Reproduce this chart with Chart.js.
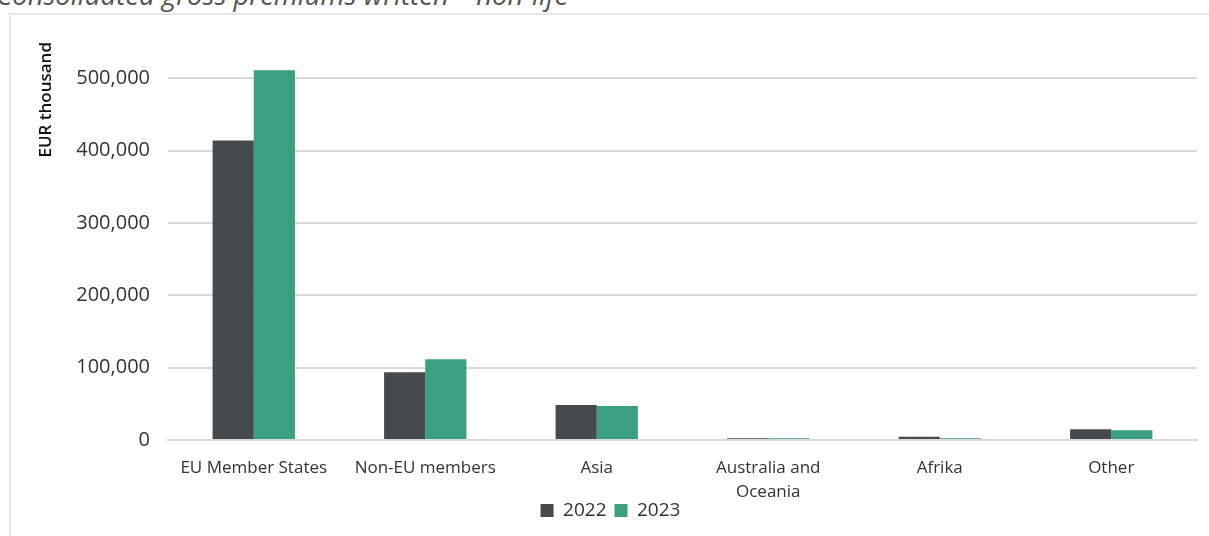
<!DOCTYPE html>
<html>
<head>
<meta charset="utf-8">
<script src="https://cdn.jsdelivr.net/npm/chart.js@4/dist/chart.umd.min.js"></script>
<style>
  body { margin: 0; background: #fff; overflow: hidden; width: 1209px; height: 536px; position: relative; }
  .caption {
    position: absolute; left: -4px; top: -24px;
    font-family: "Open Sans", sans-serif; font-style: italic; font-size: 27.5px; color: #555;
    white-space: nowrap;
  }
  .frame {
    position: absolute; left: 9px; top: 13px; width: 1210px; height: 540px;
    border: 2px solid #e6e6e6; box-sizing: border-box;
  }
  .wrap { position: absolute; left: 12px; top: 12px; width: 1197px; height: 524px; }
</style>
</head>
<body>
<div class="caption">Consolidated gross premiums written – non-life</div>
<div class="frame"></div>
<div class="wrap"><canvas id="chart"></canvas></div>
<script>
const regions = ['EU Member States', 'Non-EU members', 'Asia', ['Australia and', 'Oceania'], 'Afrika', 'Other'];
const premiums2022 = [414000, 93500, 48500, 2500, 4500, 15000];
const premiums2023 = [511000, 111500, 47000, 2500, 2500, 13500];
const yTicks = [0, 100000, 200000, 300000, 400000, 500000];

const fontFamily = '"Open Sans", sans-serif';

// pull the legend up beside the two-line category label
const legendLift = {
    id: 'legendLift',
    afterLayout(chart) {
        const lg = chart.legend;
        lg.top -= 6;
        lg.bottom -= 6;
    }
};

const ctx = document.getElementById('chart').getContext('2d');
new Chart(ctx, {
    type: 'bar',
    data: {
        labels: regions,
        datasets: [
            {
                label: '2022',
                data: premiums2022,
                backgroundColor: '#454b4b',
                categoryPercentage: 0.48,
                barPercentage: 1.0
            },
            {
                label: '2023',
                data: premiums2023,
                backgroundColor: '#3aa080',
                categoryPercentage: 0.48,
                barPercentage: 1.0
            }
        ]
    },
    plugins: [legendLift],
    options: {
        responsive: true,
        maintainAspectRatio: false,
        animation: false,
        layout: {
            padding: { left: 12, right: 12, top: 0, bottom: 0 }
        },
        plugins: {
            tooltip: { enabled: false },
            legend: {
                position: 'bottom',
                labels: {
                    boxWidth: 13,
                    boxHeight: 13,
                    padding: 8,
                    color: '#333',
                    font: { family: fontFamily, size: 19 }
                }
            }
        },
        scales: {
            x: {
                grid: { display: false },
                border: { color: '#d9d9d9', width: 2 },
                ticks: {
                    color: '#333',
                    padding: 8,
                    maxRotation: 0,
                    autoSkip: false,
                    font: { family: fontFamily, size: 17, lineHeight: 1.4 }
                },
                afterFit: scale => { scale.height = 59; }
            },
            y: {
                min: 0,
                max: 550000,
                afterBuildTicks: scale => {
                    scale.ticks = yTicks.map(v => ({ value: v }));
                },
                grid: { color: '#d9d9d9', lineWidth: 2, drawTicks: false },
                border: { display: false },
                ticks: {
                    color: '#333',
                    padding: 18,
                    font: { family: fontFamily, size: 20 },
                    callback: v => v.toLocaleString('en-US')
                },
                title: {
                    display: true,
                    text: 'EUR thousand',
                    align: 'end',
                    color: '#111',
                    padding: { top: 12, bottom: 4 },
                    font: { family: fontFamily, size: 17, weight: '600' }
                },
                afterFit: scale => { scale.width = 144; }
            }
        }
    }
});
</script>
</body>
</html>
